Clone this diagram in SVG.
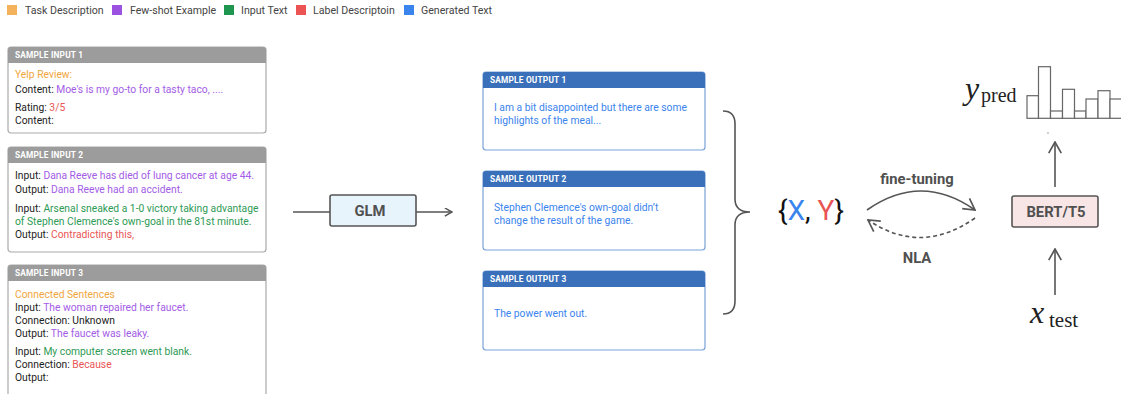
<svg xmlns="http://www.w3.org/2000/svg" width="1121" height="394" viewBox="0 0 1121 394">
<defs>
<style>
text{font-family:Roboto,"Liberation Sans",sans-serif}
.leg{font-size:10.6px;fill:#444}
.hd{font-size:8.3px;font-weight:bold;fill:#fff;letter-spacing:0.2px}
.t{font-size:10.3px;fill:#222}
.or{fill:#f0a640}.pu{fill:#a35ce6}.gr{fill:#2e9a55}.rd{fill:#e85555}.bl{fill:#3a84ee}
.box{fill:#fff;stroke:#aaa;stroke-width:1.2}
.obox{fill:#fff;stroke:#7aa3d8;stroke-width:1.2}
.ghd{fill:#9c9c9c}.bhd{fill:#3a70b9}
.ln{stroke:#555;stroke-width:1.6;fill:none}
.lbl{font-size:14.8px;font-weight:bold;fill:#505050}
.math{font-family:"Liberation Serif","DejaVu Serif",serif;fill:#222}
</style>
<marker id="ah" viewBox="0 0 10 10" refX="9" refY="5" markerWidth="9" markerHeight="9" markerUnits="userSpaceOnUse" orient="auto">
<path d="M1,0.5 L9,5 L1,9.5" fill="none" stroke="#555" stroke-width="1.6"/>
</marker>
<marker id="ah2" viewBox="0 0 10 10" refX="9" refY="5" markerWidth="14" markerHeight="14" markerUnits="userSpaceOnUse" orient="auto">
<path d="M1,0.5 L9,5 L1,9.5" fill="none" stroke="#555" stroke-width="1.2"/>
</marker>
</defs>
<rect width="1121" height="394" fill="#fff"/>
<g id="legend">
<rect x="7" y="5" width="10" height="10" fill="#f4b25c"/><text class="leg" x="25" y="14">Task Description</text>
<rect x="112" y="5" width="10" height="10" fill="#9b52e0"/><text class="leg" x="130" y="14">Few-shot Example</text>
<rect x="224" y="5" width="10" height="10" fill="#1e9650"/><text class="leg" x="241" y="14">Input Text</text>
<rect x="296" y="5" width="10" height="10" fill="#ec5454"/><text class="leg" x="313" y="14">Label Descriptoin</text>
<rect x="404" y="5" width="10" height="10" fill="#3a84ee"/><text class="leg" x="421" y="14">Generated Text</text>
</g>
<g id="input1">
<rect class="box" x="8" y="47" width="258" height="86" rx="3"/>
<path class="ghd" d="M8,63 V50 a3,3 0 0 1 3,-3 H263 a3,3 0 0 1 3,3 V63 Z"/>
<text class="hd" x="15" y="58">SAMPLE INPUT 1</text>
<text class="t or" x="15" y="78">Yelp Review:</text>
<text class="t" x="15" y="93">Content: <tspan class="pu">Moe's is my go-to for a tasty taco, ....</tspan></text>
<text class="t" x="15" y="111">Rating: <tspan class="rd">3/5</tspan></text>
<text class="t" x="15" y="124">Content:</text>
</g>
<g id="input2">
<rect class="box" x="8" y="147" width="258" height="105" rx="3"/>
<path class="ghd" d="M8,163 V150 a3,3 0 0 1 3,-3 H263 a3,3 0 0 1 3,3 V163 Z"/>
<text class="hd" x="15" y="158">SAMPLE INPUT 2</text>
<text class="t" x="15" y="179">Input: <tspan class="pu">Dana Reeve has died of lung cancer at age 44.</tspan></text>
<text class="t" x="15" y="193">Output: <tspan class="pu">Dana Reeve had an accident.</tspan></text>
<text class="t" x="15" y="212">Input: <tspan class="gr">Arsenal sneaked a 1-0 victory taking advantage</tspan></text>
<text class="t gr" x="15" y="225">of Stephen Clemence's own-goal in the 81st minute.</text>
<text class="t" x="15" y="238">Output: <tspan class="rd">Contradicting this,</tspan></text>
</g>
<g id="input3">
<rect class="box" x="8" y="265" width="258" height="140" rx="3"/>
<path class="ghd" d="M8,281 V268 a3,3 0 0 1 3,-3 H263 a3,3 0 0 1 3,3 V281 Z"/>
<text class="hd" x="15" y="276">SAMPLE INPUT 3</text>
<text class="t or" x="15" y="298">Connected Sentences</text>
<text class="t" x="15" y="311">Input: <tspan class="pu">The woman repaired her faucet.</tspan></text>
<text class="t" x="15" y="324">Connection: Unknown</text>
<text class="t" x="15" y="337">Output: <tspan class="pu">The faucet was leaky.</tspan></text>
<text class="t" x="15" y="355">Input: <tspan class="gr">My computer screen went blank.</tspan></text>
<text class="t" x="15" y="368">Connection: <tspan class="rd">Because</tspan></text>
<text class="t" x="15" y="381">Output:</text>
</g>
<g id="glm">
<rect x="330" y="195" width="86" height="31" rx="2" fill="#e8f4fc" stroke="#555" stroke-width="1.6"/>
<text class="lbl" x="370" y="216" text-anchor="middle">GLM</text>
</g>
<g id="output1">
<rect class="obox" x="483" y="72" width="222" height="78" rx="3"/>
<path class="bhd" d="M483,88 V75 a3,3 0 0 1 3,-3 H702 a3,3 0 0 1 3,3 V88 Z"/>
<text class="hd" x="490" y="83">SAMPLE OUTPUT 1</text>
<text class="t bl" x="494" y="111">I am a bit disappointed but there are some</text>
<text class="t bl" x="494" y="124">highlights of the meal...</text>
</g>
<g id="output2">
<rect class="obox" x="483" y="171" width="222" height="79" rx="3"/>
<path class="bhd" d="M483,187 V174 a3,3 0 0 1 3,-3 H702 a3,3 0 0 1 3,3 V187 Z"/>
<text class="hd" x="490" y="182">SAMPLE OUTPUT 2</text>
<text class="t bl" x="494" y="211">Stephen Clemence's own-goal didn’t</text>
<text class="t bl" x="494" y="224">change the result of the game.</text>
</g>
<g id="output3">
<rect class="obox" x="483" y="271" width="222" height="79" rx="3"/>
<path class="bhd" d="M483,287 V274 a3,3 0 0 1 3,-3 H702 a3,3 0 0 1 3,3 V287 Z"/>
<text class="hd" x="490" y="282">SAMPLE OUTPUT 3</text>
<text class="t bl" x="494" y="317">The power went out.</text>
</g>
<g id="xy">
<text x="811" y="220" text-anchor="middle" style="font-size:28px;fill:#111">{<tspan class="bl">X</tspan>, <tspan class="rd">Y</tspan>}</text>
</g>
<g id="bert">
<rect x="1012" y="196" width="86" height="31" rx="2" fill="#f8e6e6" stroke="#555" stroke-width="1.6"/>
<text class="lbl" x="1056" y="217" text-anchor="middle">BERT/T5</text>
</g>
<g id="ypred">
<text class="math" x="965" y="99" style="font-size:32px;font-style:italic">y</text>
<text class="math" x="981" y="102" style="font-size:20px">pred</text>
<g fill="#fff" stroke="#666" stroke-width="1.2">
<rect x="1027" y="95.7" width="11.5" height="22.6"/>
<rect x="1038.5" y="66.7" width="12" height="51.6"/>
<rect x="1050.5" y="111" width="12" height="7.3"/>
<rect x="1062.5" y="89.3" width="12" height="29"/>
<rect x="1074.5" y="111" width="11.5" height="7.3"/>
<rect x="1086" y="99" width="12" height="19.3"/>
<rect x="1098" y="90.7" width="12" height="27.6"/>
<rect x="1110" y="99" width="12" height="19.3"/>
</g>
<circle cx="1048" cy="133" r="0.6" fill="#333"/>
</g>
<g id="xtest">
<text class="math" x="1030" y="323" style="font-size:32px;font-style:italic">x</text>
<text class="math" x="1049" y="327" style="font-size:21px">test</text>
</g>
<g id="connectors">
<line class="ln" x1="293" y1="212" x2="330" y2="212"/>
<line class="ln" x1="416" y1="212" x2="452" y2="212" marker-end="url(#ah)"/>
<path class="ln" d="M723,111 Q735,111 735,124 V199 Q735,212 750,212 Q735,212 735,225 V301 Q735,314 723,314"/>
<path class="ln" d="M867,210 Q921,172 975,210" marker-end="url(#ah2)"/>
<path class="ln" d="M975,218 Q921,256 868,220" stroke-dasharray="4,3" marker-end="url(#ah2)"/>
<line class="ln" x1="1055" y1="187" x2="1055" y2="142" marker-end="url(#ah2)"/>
<line class="ln" x1="1055" y1="295" x2="1055" y2="249" marker-end="url(#ah2)"/>
</g>
<text class="lbl" x="917" y="184" text-anchor="middle">fine-tuning</text>
<text class="lbl" x="917" y="263" text-anchor="middle">NLA</text>
</svg>
